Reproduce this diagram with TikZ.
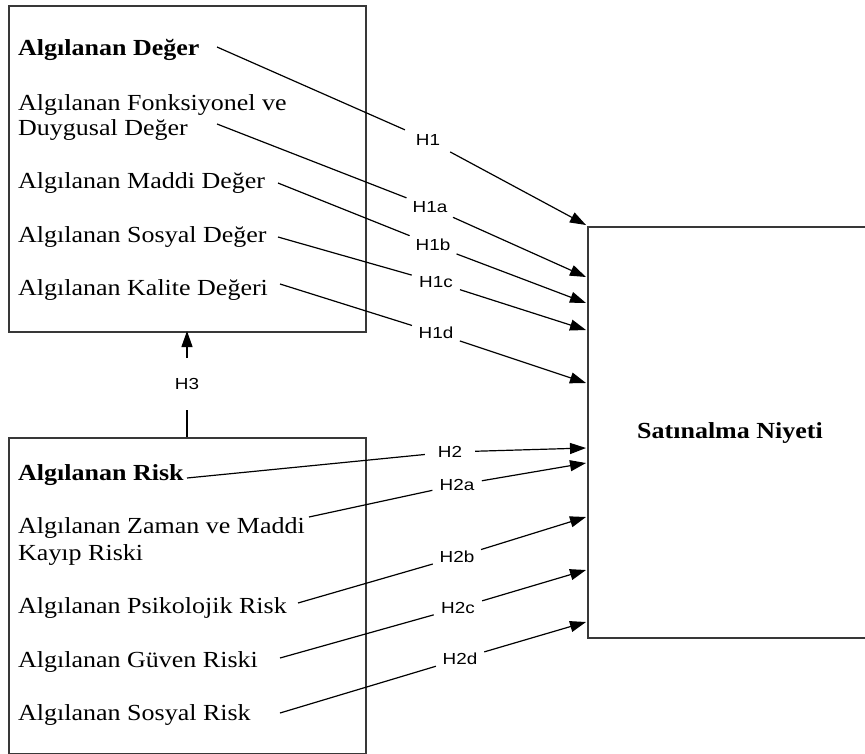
\documentclass[tikz,border=0pt]{standalone}
\usepackage{fontspec}
\setmainfont{Liberation Serif}
\newfontfamily\arialf{Liberation Sans}
\usetikzlibrary{arrows.meta}
\newcommand{\hstr}[1]{\scalebox{1.13}[1]{#1}}
\newcommand{\hlab}[1]{\scalebox{1.18}[1]{#1}}
\begin{document}
\begin{tikzpicture}[x=1pt,y=-1pt,
  box/.style={draw=black!78, line width=1.8pt, inner sep=0pt, anchor=north west},
  item/.style={anchor=base west, inner sep=0pt, font=\fontsize{23}{27}\selectfont},
  hyp/.style={font=\arialf\fontsize{16}{18}\selectfont, circle, minimum size=50pt, inner sep=0pt},
  conn/.style={line width=1.2pt, -{Triangle[length=16pt,width=11pt]}}]
\clip (0,0) rectangle (865,753);
\fill[white] (0,0) rectangle (865,753);

% boxes
\node[box, minimum width=357pt, minimum height=326pt] (valbox) at (8,5) {};
\node[box, minimum width=357pt, minimum height=316pt] (riskbox) at (8,437) {};
\node[box, minimum width=330pt, minimum height=411pt] (snbox) at (587,226) {};
\node[anchor=base, inner sep=0pt, font=\fontsize{23}{27}\selectfont\bfseries] (sn) at (730,438) {\hstr{Satınalma Niyeti}};

% value items
\node[item, font=\fontsize{23}{27}\selectfont\bfseries] (v0) at (18,55) {\hstr{Algılanan Değer}};
\node[item] (v1a) at (18,110) {\hstr{Algılanan Fonksiyonel ve}};
\node[item] (v1b) at (18,135) {\hstr{Duygusal Değer}};
\node[item] (v2) at (18,188) {\hstr{Algılanan Maddi Değer}};
\node[item] (v3) at (18,242) {\hstr{Algılanan Sosyal Değer}};
\node[item] (v4) at (18,295) {\hstr{Algılanan Kalite Değeri}};

% risk items
\node[item, font=\fontsize{23}{27}\selectfont\bfseries] (r0) at (18,480) {\hstr{Algılanan Risk}};
\node[item] (r1a) at (18,533) {\hstr{Algılanan Zaman ve Maddi}};
\node[item] (r1b) at (18,560) {\hstr{Kayıp Riski}};
\node[item] (r2) at (18,613) {\hstr{Algılanan Psikolojik Risk}};
\node[item] (r3) at (18,667) {\hstr{Algılanan Güven Riski}};
\node[item] (r4) at (18,720) {\hstr{Algılanan Sosyal Risk}};

% connector start points
\coordinate (s1) at (217,47);
\coordinate (s1a) at (217,124);
\coordinate (s1b) at (278,183);
\coordinate (s1c) at (278,237);
\coordinate (s1d) at (280,284);
\coordinate (s2) at (187,478);
\coordinate (s2a) at (309,517);
\coordinate (s2b) at (298,603);
\coordinate (s2c) at (280,658);
\coordinate (s2d) at (280,713);
% connector end points on the purchase-intention box
\coordinate (t1) at (586,225);
\coordinate (t1a) at (586,277);
\coordinate (t1b) at (586,303);
\coordinate (t1c) at (586,330);
\coordinate (t1d) at (586,383);
\coordinate (t2) at (586,448);
\coordinate (t2a) at (586,463);
\coordinate (t2b) at (586,517);
\coordinate (t2c) at (586,570);
\coordinate (t2d) at (586,622);

% labels
\node[hyp] (h1) at (428,140) {\hlab{H1}};
\node[hyp] (h1a) at (430,207) {\hlab{H1a}};
\node[hyp] (h1b) at (433,245) {\hlab{H1b}};
\node[hyp] (h1c) at (436,282) {\hlab{H1c}};
\node[hyp] (h1d) at (436,333) {\hlab{H1d}};
\node[hyp] (h2) at (450,452) {\hlab{H2}};
\node[hyp] (h2a) at (457,485) {\hlab{H2a}};
\node[hyp] (h2b) at (457,557) {\hlab{H2b}};
\node[hyp] (h2c) at (458,608) {\hlab{H2c}};
\node[hyp] (h2d) at (460,659) {\hlab{H2d}};

% connectors
\draw[conn] (s1) -- (h1) -- (t1);
\draw[conn] (s1a) -- (h1a) -- (t1a);
\draw[conn] (s1b) -- (h1b) -- (t1b);
\draw[conn] (s1c) -- (h1c) -- (t1c);
\draw[conn] (s1d) -- (h1d) -- (t1d);
\draw[conn] (s2) -- (h2) -- (t2);
\draw[conn] (s2a) -- (h2a) -- (t2a);
\draw[conn] (s2b) -- (h2b) -- (t2b);
\draw[conn] (s2c) -- (h2c) -- (t2c);
\draw[conn] (s2d) -- (h2d) -- (t2d);

% H3
\coordinate (h3s) at (187,437);
\coordinate (h3t) at (187,331);
\node[font=\arialf\fontsize{16}{18}\selectfont, inner xsep=4pt, inner ysep=20pt] (h3) at (187,384) {\hlab{H3}};
\draw[conn] (h3s) -- (h3) -- (h3t);
\end{tikzpicture}
\end{document}
